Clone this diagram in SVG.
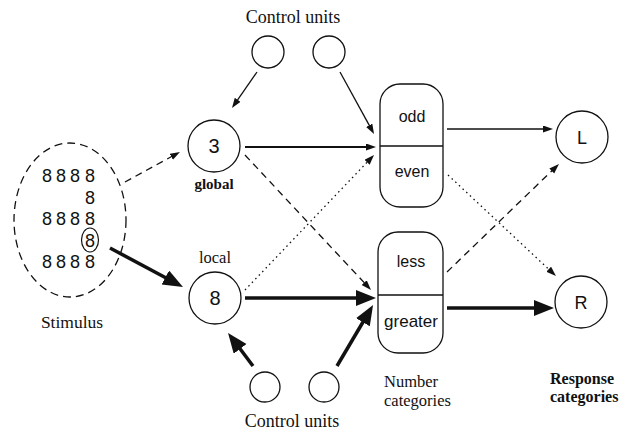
<svg xmlns="http://www.w3.org/2000/svg" width="621" height="434" viewBox="0 0 621 434">
<style>
.lbl{font-family:"Liberation Serif","Times New Roman",serif;font-size:16.5px;fill:#111}
.big{font-size:18px}
.bold{font-weight:bold;font-size:15px}
.resp{font-size:16px}
.stim{font-size:17.5px}
.sans{font-family:"Liberation Sans",Arial,sans-serif;fill:#111;text-anchor:middle}
.node{fill:#fff;stroke:#111;stroke-width:1.3}
.ln{fill:none;stroke:#111}
.thin{stroke-width:1.3}
.mid{stroke-width:1.8}
.thick{stroke-width:3.5}
.dash{stroke-dasharray:7 5}
.dot{stroke-dasharray:1.5 3.5}
</style>
<defs>
<marker id="a" markerUnits="userSpaceOnUse" markerWidth="12" markerHeight="8" refX="1" refY="3.5" orient="auto"><path d="M0,0 L10,3.5 L0,7 z" fill="#111"/></marker>
<marker id="A" markerUnits="userSpaceOnUse" markerWidth="22" markerHeight="18" refX="2" refY="8" orient="auto"><path d="M0,0 L20,8 L0,16 z" fill="#111"/></marker>
</defs>
<rect width="621" height="434" fill="#fff"/>

<g id="stimulus">
<ellipse cx="70" cy="220" rx="56" ry="77" fill="none" stroke="#111" stroke-width="1.3" stroke-dasharray="8 5"/>
<g class="sans" font-size="18">
<text x="47" y="182">8</text><text x="61" y="182">8</text><text x="75" y="182">8</text><text x="90" y="182">8</text>
<text x="90" y="204">8</text>
<text x="47" y="225">8</text><text x="61" y="225">8</text><text x="75" y="225">8</text><text x="90" y="225">8</text>
<text x="90" y="247">8</text>
<text x="47" y="268">8</text><text x="61" y="268">8</text><text x="75" y="268">8</text><text x="90" y="268">8</text>
</g>
<ellipse cx="90" cy="240" rx="8.5" ry="12" fill="none" stroke="#111" stroke-width="1.2"/>
<text class="lbl stim" x="72" y="328" text-anchor="middle">Stimulus</text>
</g>

<g id="control-top">
<text class="lbl big" x="293" y="23" text-anchor="middle">Control units</text>
<circle class="node" cx="268" cy="52" r="16"/>
<circle class="node" cx="329" cy="52" r="16"/>
</g>

<g id="global">
<circle class="node" cx="214" cy="146" r="26"/>
<text class="sans" x="214" y="153" font-size="20">3</text>
<text class="lbl bold" x="214" y="189" text-anchor="middle">global</text>
</g>

<g id="local">
<text class="lbl" x="215" y="263" text-anchor="middle">local</text>
<circle class="node" cx="215" cy="298" r="26"/>
<text class="sans" x="215" y="305" font-size="20">8</text>
</g>

<g id="control-bottom">
<circle class="node" cx="265" cy="387" r="15"/>
<circle class="node" cx="324" cy="387" r="15"/>
<text class="lbl big" x="292" y="427" text-anchor="middle">Control units</text>
</g>

<g id="parity">
<rect class="node" x="380" y="84" width="63" height="123" rx="20"/>
<line x1="380" y1="146" x2="443" y2="146" stroke="#111" stroke-width="1.5"/>
<text class="sans" x="412" y="122" font-size="16">odd</text>
<text class="sans" x="412" y="177" font-size="16">even</text>
</g>

<g id="magnitude">
<rect class="node" x="378" y="232" width="65" height="121" rx="20"/>
<line x1="378" y1="295" x2="443" y2="295" stroke="#111" stroke-width="1.5"/>
<text class="sans" x="411" y="267" font-size="16">less</text>
<text class="sans" x="411" y="327" font-size="17">greater</text>
<text class="lbl" x="384" y="387">Number</text>
<text class="lbl" x="384" y="406">categories</text>
</g>

<g id="L">
<circle class="node" cx="582" cy="137" r="26"/>
<text class="sans" x="582" y="144" font-size="18">L</text>
</g>

<g id="R">
<circle class="node" cx="581" cy="302" r="26"/>
<text class="sans" x="581" y="309" font-size="18">R</text>
<text class="lbl bold resp" x="550" y="384">Response</text>
<text class="lbl bold resp" x="550" y="402">categories</text>
</g>

<g id="connectors">
<line class="ln thin dash" x1="125" y1="182" x2="172.1" y2="156.3" marker-end="url(#a)"/>
<line class="ln thick" x1="110" y1="248" x2="167.1" y2="278.5" marker-end="url(#A)"/>
<line class="ln thin" x1="257" y1="72" x2="237.1" y2="100.6" marker-end="url(#a)"/>
<line class="ln thin" x1="340" y1="72" x2="369.7" y2="126.1" marker-end="url(#a)"/>
<line class="ln mid" x1="245" y1="147" x2="367" y2="147" marker-end="url(#a)"/>
<line class="ln thin dash" x1="245" y1="155" x2="364.9" y2="283.4" marker-end="url(#a)"/>
<line class="ln thin dot" x1="245" y1="290" x2="367.8" y2="161.5" marker-end="url(#a)"/>
<line class="ln thick" x1="245" y1="298" x2="358" y2="298" marker-end="url(#A)"/>
<line class="ln thick" x1="253" y1="366" x2="238.9" y2="347.3" marker-end="url(#A)"/>
<line class="ln thick" x1="337" y1="366" x2="363.9" y2="320.5" marker-end="url(#A)"/>
<line class="ln thin" x1="447" y1="129" x2="544" y2="129" marker-end="url(#a)"/>
<line class="ln thin dot" x1="448" y1="175" x2="549.4" y2="269.9" marker-end="url(#a)"/>
<line class="ln thin dash" x1="447" y1="272" x2="552.5" y2="170.2" marker-end="url(#a)"/>
<line class="ln thick" x1="447" y1="308" x2="536" y2="308" marker-end="url(#A)"/>
</g>
</svg>
